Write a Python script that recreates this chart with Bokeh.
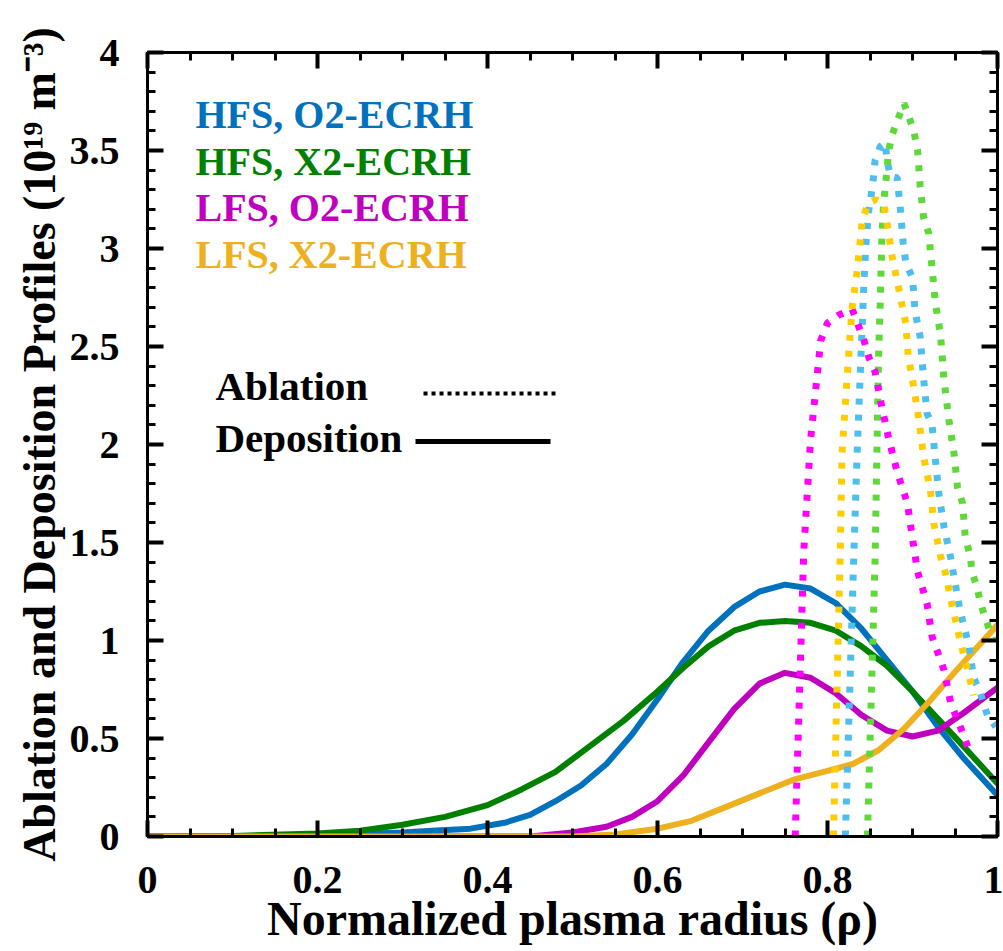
from bokeh.plotting import figure
from bokeh.models import LinearAxis, FixedTicker, Label, Arrow, Range1d
from bokeh.embed import file_html
from bokeh.resources import INLINE

# ---------------- data ----------------
# Deposition profiles (solid)
dep_hfs_o2_x = [0.0, 0.1, 0.2, 0.30, 0.34, 0.38, 0.42, 0.45, 0.48, 0.51, 0.54, 0.57, 0.60, 0.63, 0.66, 0.69, 0.72, 0.75, 0.78, 0.81, 0.84, 0.87, 0.90, 0.93, 0.96, 1.0]
dep_hfs_o2_y = [0.0, 0.0, 0.005, 0.02, 0.03, 0.04, 0.07, 0.11, 0.18, 0.26, 0.37, 0.52, 0.70, 0.89, 1.05, 1.17, 1.25, 1.285, 1.265, 1.19, 1.06, 0.90, 0.74, 0.56, 0.40, 0.21]

dep_hfs_x2_x = [0.0, 0.1, 0.2, 0.25, 0.30, 0.35, 0.40, 0.44, 0.48, 0.52, 0.56, 0.60, 0.63, 0.66, 0.69, 0.72, 0.75, 0.78, 0.81, 0.84, 0.87, 0.90, 0.93, 0.96, 1.0]
dep_hfs_x2_y = [0.0, 0.003, 0.015, 0.03, 0.06, 0.10, 0.16, 0.24, 0.33, 0.46, 0.59, 0.74, 0.86, 0.97, 1.05, 1.09, 1.10, 1.09, 1.05, 0.97, 0.87, 0.74, 0.60, 0.46, 0.27]

dep_lfs_o2_x = [0.0, 0.45, 0.50, 0.54, 0.57, 0.60, 0.63, 0.66, 0.69, 0.72, 0.75, 0.78, 0.81, 0.84, 0.87, 0.90, 0.93, 0.96, 1.0]
dep_lfs_o2_y = [0.0, 0.0, 0.02, 0.05, 0.10, 0.18, 0.31, 0.48, 0.65, 0.78, 0.835, 0.81, 0.73, 0.62, 0.54, 0.51, 0.54, 0.63, 0.76]

dep_lfs_x2_x = [0.0, 0.5, 0.55, 0.60, 0.64, 0.68, 0.72, 0.76, 0.80, 0.83, 0.86, 0.89, 0.92, 0.95, 1.0]
dep_lfs_x2_y = [0.0, 0.0, 0.01, 0.04, 0.08, 0.15, 0.22, 0.29, 0.335, 0.37, 0.44, 0.55, 0.69, 0.84, 1.08]

# Ablation profiles (dotted)
abl_lfs_o2_x = [0.762, 0.772, 0.780, 0.792, 0.800, 0.813, 0.829, 0.836, 0.843, 0.849, 0.856, 0.864, 0.872, 0.882, 0.894, 0.900, 0.906, 0.917, 0.923, 0.937, 0.945, 0.959, 0.968]
abl_lfs_o2_y = [0.0, 1.45, 2.02, 2.53, 2.62, 2.66, 2.69, 2.61, 2.53, 2.44, 2.37, 2.19, 2.03, 1.86, 1.70, 1.52, 1.35, 1.19, 1.02, 0.85, 0.68, 0.53, 0.42]

abl_hfs_o2_x = [0.821, 0.831, 0.835, 0.839, 0.843, 0.845, 0.848, 0.851, 0.854, 0.856, 0.862, 0.868, 0.870, 0.874, 0.882, 0.886, 0.889, 0.892, 0.900, 0.903, 0.909, 0.913, 0.917, 0.923, 0.927, 0.931, 0.937, 0.945, 0.949, 0.956, 0.966, 0.972, 0.980, 0.988, 0.998]
abl_hfs_o2_y = [0.0, 1.44, 1.97, 2.41, 2.84, 3.01, 3.18, 3.26, 3.36, 3.45, 3.52, 3.54, 3.45, 3.37, 3.36, 3.19, 3.03, 2.93, 2.85, 2.68, 2.55, 2.34, 2.16, 2.10, 1.92, 1.75, 1.58, 1.42, 1.32, 1.15, 0.98, 0.81, 0.73, 0.62, 0.56]

abl_hfs_x2_x = [0.847, 0.856, 0.858, 0.860, 0.862, 0.864, 0.866, 0.870, 0.872, 0.876, 0.882, 0.890, 0.896, 0.902, 0.906, 0.909, 0.913, 0.919, 0.923, 0.927, 0.933, 0.937, 0.943, 0.949, 0.953, 0.959, 0.962, 0.968, 0.970, 0.976, 0.980, 0.986, 0.995]
abl_hfs_x2_y = [0.0, 1.42, 1.93, 2.44, 2.72, 3.06, 3.23, 3.40, 3.50, 3.58, 3.65, 3.74, 3.67, 3.59, 3.50, 3.32, 3.16, 3.08, 2.90, 2.72, 2.56, 2.33, 2.12, 1.95, 1.78, 1.70, 1.53, 1.43, 1.35, 1.27, 1.19, 1.11, 1.0]

abl_lfs_x2_x = [0.807, 0.815, 0.817, 0.821, 0.825, 0.829, 0.835, 0.839, 0.841, 0.848, 0.857, 0.866, 0.870, 0.876, 0.884, 0.892, 0.895, 0.902, 0.908, 0.913, 0.921, 0.925, 0.933, 0.939, 0.947, 0.956, 0.966, 0.972]
abl_lfs_x2_y = [0.0, 1.45, 1.95, 2.21, 2.46, 2.70, 2.89, 3.06, 3.15, 3.23, 3.25, 3.23, 3.13, 2.96, 2.79, 2.62, 2.45, 2.28, 2.11, 1.94, 1.77, 1.60, 1.43, 1.34, 1.17, 1.00, 0.83, 0.72]

series_labels = ["HFS, O2-ECRH", "HFS, X2-ECRH", "LFS, O2-ECRH", "LFS, X2-ECRH"]
x_ticks = [0, 0.2, 0.4, 0.6, 0.8, 1.0]
x_tick_labels = ["0", "0.2", "0.4", "0.6", "0.8", "1"]
y_ticks = [0, 0.5, 1, 1.5, 2, 2.5, 3, 3.5, 4]
y_tick_labels = ["0", "0.5", "1", "1.5", "2", "2.5", "3", "3.5", "4"]
x_minor = [i * 0.05 for i in range(21)]
y_minor = [i * 0.1 for i in range(41)]

# ---------------- styles / layout ----------------
FONT = "Liberation Serif"
solid_colors = ["#0072BD", "#008000", "#BF00BF", "#EDB120"]
dot_colors = ["#4DBEEE", "#5FD93A", "#FF00FF", "#FFCC00"]
FL, FB = 147, 836                    # frame left / bottom in canvas px

p = figure(width=1003, height=951, x_range=Range1d(0, 1), y_range=Range1d(0, 4),
           output_backend="svg", toolbar_location=None,
           min_border_left=147, min_border_right=6, min_border_top=52, min_border_bottom=115)
p.xgrid.visible = False
p.ygrid.visible = False
p.outline_line_color = "black"
p.outline_line_width = 3

bottom_ax = p.below[0]
left_ax = p.left[0]

def style_axis(ax, ticks, minor, labels, show_labels):
    ax.ticker = FixedTicker(ticks=ticks, minor_ticks=minor)
    ax.axis_line_width = 3
    ax.axis_line_color = "black"
    ax.major_tick_in = 16
    ax.major_tick_out = 0
    ax.minor_tick_in = 8
    ax.minor_tick_out = 0
    ax.major_tick_line_color = "black"
    ax.minor_tick_line_color = "black"
    ax.major_tick_line_width = 4
    ax.minor_tick_line_width = 3
    if show_labels:
        ax.major_label_overrides = {t: l for t, l in zip(ticks, labels)}
        ax.major_label_text_font = FONT
        ax.major_label_text_font_style = "bold"
        ax.major_label_text_font_size = "40px"
        ax.major_label_text_color = "black"
    else:
        ax.major_label_overrides = {t: "" for t in ticks}
        ax.major_label_text_font_size = "1px"
        ax.major_label_standoff = 0

style_axis(bottom_ax, x_ticks, x_minor, x_tick_labels, True)
style_axis(left_ax, y_ticks, y_minor, y_tick_labels, True)
bottom_ax.major_label_standoff = 30
left_ax.major_label_standoff = 28

top_ax = LinearAxis()
right_ax = LinearAxis()
style_axis(top_ax, x_ticks, x_minor, x_tick_labels, False)
style_axis(right_ax, y_ticks, y_minor, y_tick_labels, False)
p.add_layout(top_ax, "above")
p.add_layout(right_ax, "right")

bottom_ax.axis_label = "Normalized plasma radius (\u03c1)"
left_ax.axis_label = "Ablation and Deposition Profiles (10\u00b9\u2079 m\u207b\u00b3)"
for ax, fs in ((bottom_ax, "48px"), (left_ax, "46px")):
    ax.axis_label_text_font = FONT
    ax.axis_label_text_font_style = "bold"
    ax.axis_label_text_font_size = fs
    ax.axis_label_text_color = "black"
bottom_ax.axis_label_standoff = -4
left_ax.axis_label_standoff = 2

# deposition (solid)
dep = [(dep_hfs_o2_x, dep_hfs_o2_y), (dep_hfs_x2_x, dep_hfs_x2_y),
       (dep_lfs_o2_x, dep_lfs_o2_y), (dep_lfs_x2_x, dep_lfs_x2_y)]
for (xs, ys), c in zip(dep, solid_colors):
    p.line(xs, ys, line_color=c, line_width=6, line_join="round", line_cap="round")

# ablation (dotted)
abl = [(abl_hfs_o2_x, abl_hfs_o2_y), (abl_hfs_x2_x, abl_hfs_x2_y),
       (abl_lfs_o2_x, abl_lfs_o2_y), (abl_lfs_x2_x, abl_lfs_x2_y)]
for (xs, ys), c in zip(abl, dot_colors):
    p.line(xs, ys, line_color=c, line_width=7, line_dash="6 10", line_cap="butt")

# ---------------- key (screen positions, relative to frame) ----------------
def sx(px):
    return px - FL

def sy(py):
    return FB - py

for i, (lab, c) in enumerate(zip(series_labels, solid_colors)):
    p.add_layout(Label(x=sx(195), y=sy(114 + 46.5 * i), x_units="screen", y_units="screen",
                       text=lab, text_color=c, text_font=FONT, text_font_style="bold",
                       text_font_size="40px", text_baseline="middle", text_align="left"))

p.add_layout(Label(x=sx(215), y=sy(385), x_units="screen", y_units="screen", text="Ablation",
                   text_color="black", text_font=FONT, text_font_style="bold",
                   text_font_size="41px", text_baseline="middle"))
p.add_layout(Label(x=sx(215), y=sy(437), x_units="screen", y_units="screen", text="Deposition",
                   text_color="black", text_font=FONT, text_font_style="bold",
                   text_font_size="41px", text_baseline="middle"))
p.add_layout(Arrow(end=None, x_start=sx(423), y_start=sy(393), x_end=sx(555), y_end=sy(393),
                   start_units="screen", end_units="screen",
                   line_color="black", line_width=4, line_dash="4 4"))
p.add_layout(Arrow(end=None, x_start=sx(415), y_start=sy(441), x_end=sx(550), y_end=sy(441),
                   start_units="screen", end_units="screen",
                   line_color="black", line_width=5))

open("out.html", "w").write(file_html(p, INLINE))
